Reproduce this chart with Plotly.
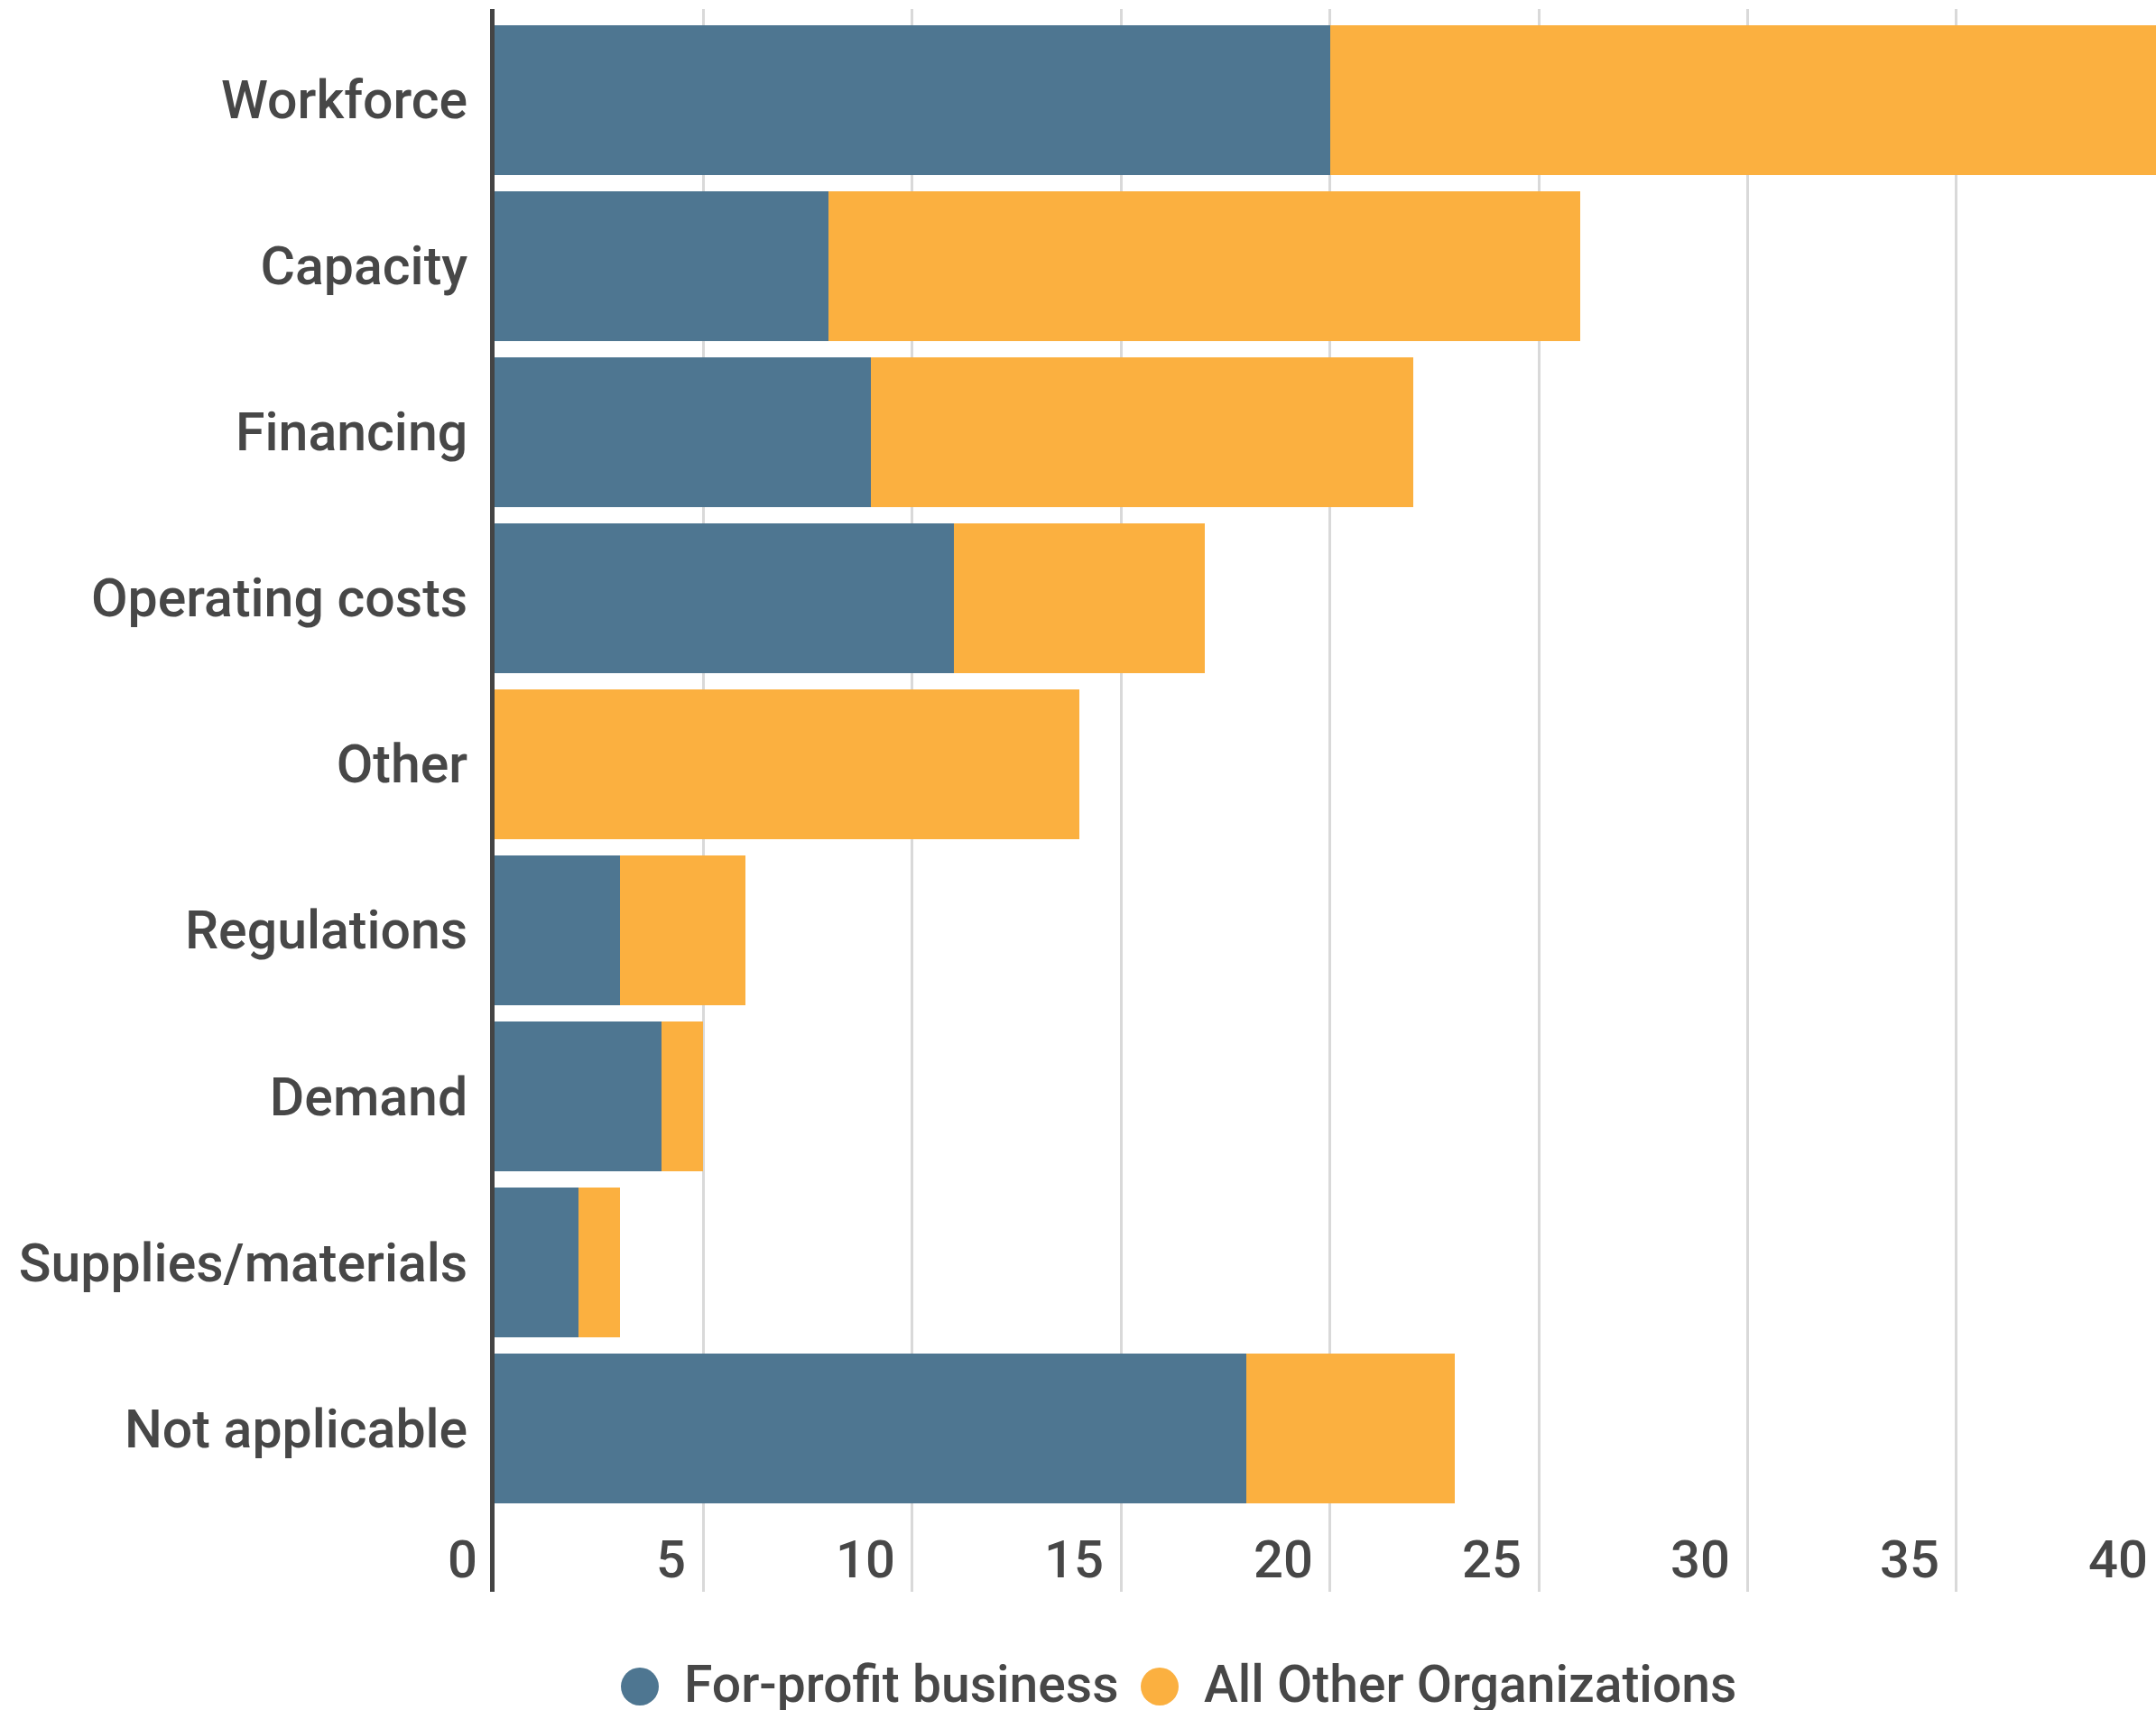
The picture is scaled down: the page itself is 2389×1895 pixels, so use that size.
import plotly.graph_objects as go

# Survey: challenges reported, split by organisation type
CATEGORIES = [
    "Workforce",
    "Capacity",
    "Financing",
    "Operating costs",
    "Other",
    "Regulations",
    "Demand",
    "Supplies/materials",
    "Not applicable",
]
SERIES_NAMES = ["For-profit business", "All Other Organizations"]
FOR_PROFIT = [20, 8, 9, 11, 0, 3, 4, 2, 18]
ALL_OTHER = [20, 18, 13, 6, 14, 3, 1, 1, 5]
TICK_VALUES = [0, 5, 10, 15, 20, 25, 30, 35, 40]

COLORS = ["#4E7691", "#FBB040"]
TEXT_COLOR = "#474747"
FONT = "Roboto"
WEIGHT = 500

W, H = 2389, 1895
M_L, M_R, M_T, M_B = 548, 0, 10, 131
PLOT_W = W - M_L - M_R
PLOT_H = H - M_T - M_B
PX_PER_UNIT = 46.28
X_MAX = PLOT_W / PX_PER_UNIT


def px_x(px):
    """Pixel column -> paper x."""
    return (px - M_L) / PLOT_W


def px_y(py):
    """Pixel row -> paper y."""
    return (M_T + PLOT_H - py) / PLOT_H


def font(size):
    return dict(family=FONT, size=size, color=TEXT_COLOR, weight=WEIGHT)


fig = go.Figure()
for name, vals, col in zip(SERIES_NAMES, [FOR_PROFIT, ALL_OTHER], COLORS):
    fig.add_trace(go.Bar(
        name=name, y=CATEGORIES, x=vals, orientation="h",
        marker=dict(color=col, line=dict(width=0)),
        showlegend=False, hoverinfo="x+y+name",
    ))

# x tick labels sit inside the plot, just left of each grid line
for v in TICK_VALUES:
    fig.add_annotation(
        x=v / X_MAX, xref="paper", y=px_y(1728), yref="paper",
        text=str(v), showarrow=False,
        xanchor="right", yanchor="middle", xshift=-17,
        font=font(58),
    )

# legend: round swatches followed by series names
legend_items = [(709, 756), (1285, 1332)]
for (cx, tx), name, col in zip(legend_items, SERIES_NAMES, COLORS):
    fig.add_shape(
        type="circle", xref="paper", yref="paper",
        xsizemode="pixel", ysizemode="pixel",
        xanchor=px_x(cx), yanchor=px_y(1869),
        x0=-21, x1=21, y0=-21, y1=21,
        fillcolor=col, line=dict(width=0),
    )
    fig.add_annotation(
        x=px_x(tx), y=px_y(1867), xref="paper", yref="paper",
        text=name, showarrow=False, xanchor="left", yanchor="middle",
        font=font(57),
    )

fig.update_layout(
    width=W, height=H,
    margin=dict(l=M_L, r=M_R, t=M_T, b=M_B, pad=0),
    barmode="stack", bargap=0.1,
    plot_bgcolor="white", paper_bgcolor="white",
    font=font(58),
)
fig.update_xaxes(
    range=[0, X_MAX], tickvals=TICK_VALUES, showticklabels=False,
    showgrid=True, gridcolor="#D9D9D9", gridwidth=3,
    zeroline=False, showline=False, ticks="",
)
fig.update_yaxes(
    categoryorder="array", categoryarray=CATEGORIES,
    range=[8.9845, -0.548],
    showgrid=False, zeroline=False,
    showline=True, linecolor="#444444", linewidth=5,
    ticks="", ticklabelstandoff=13,
    tickfont=font(59),
)

fig.write_html("out.html")
